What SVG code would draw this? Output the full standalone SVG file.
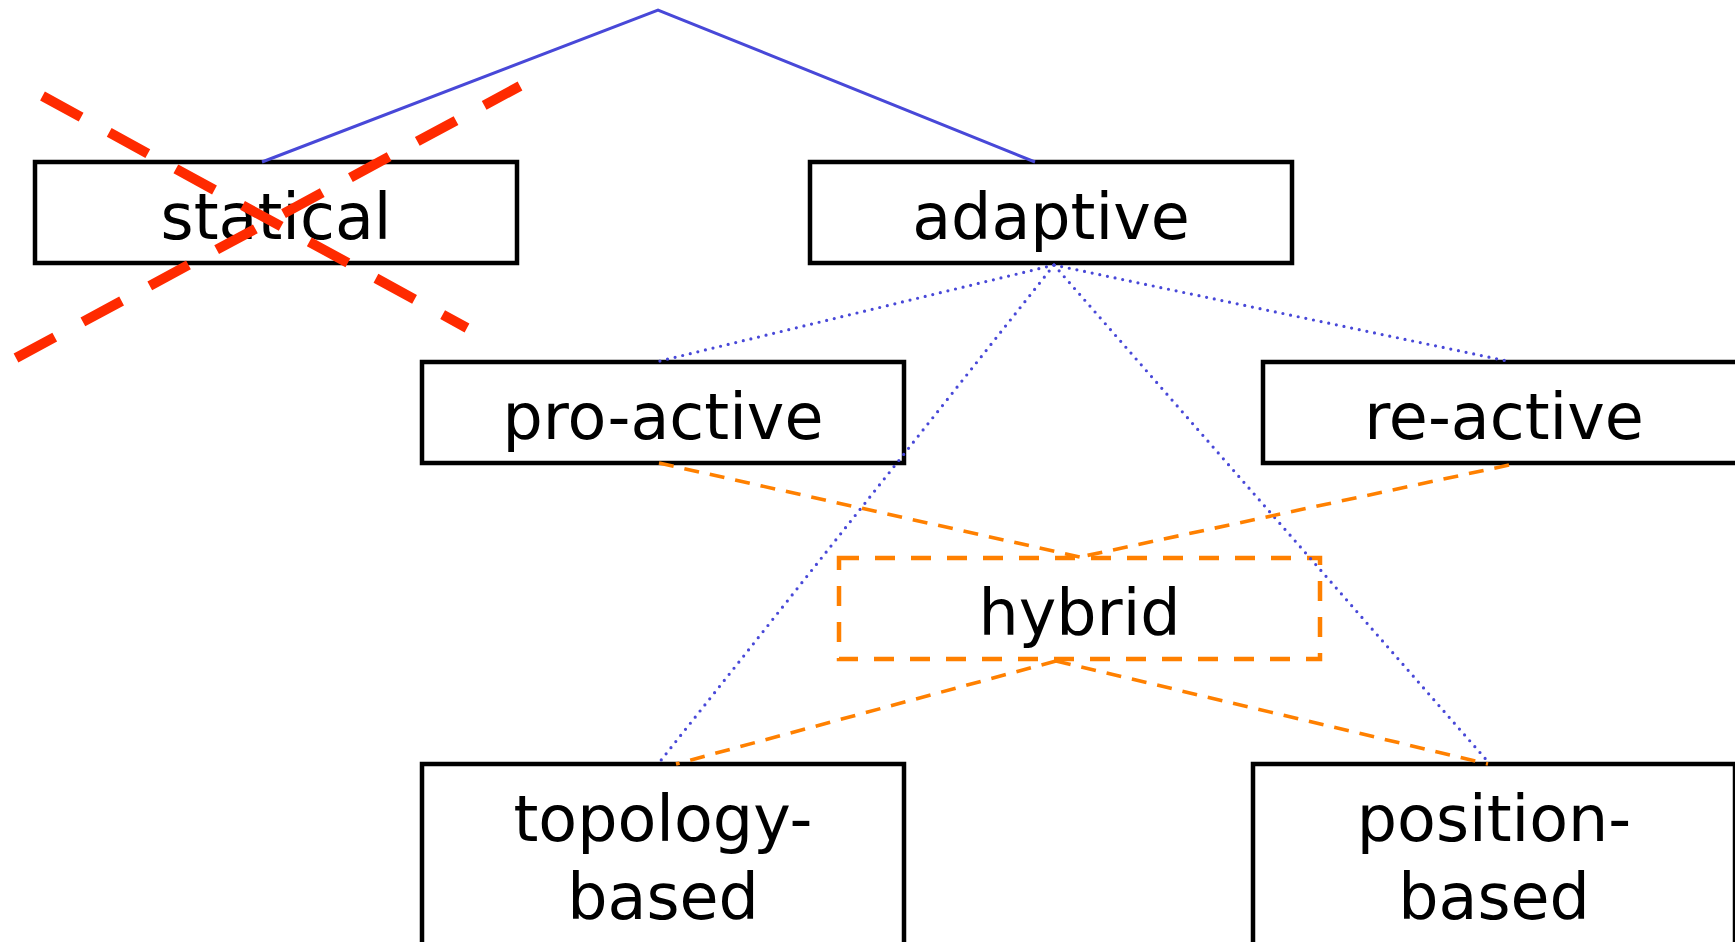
<svg xmlns="http://www.w3.org/2000/svg" width="1735" height="942" viewBox="0 0 1735 942">
  <style>
    .box { fill: #ffffff; stroke: #000000; stroke-width: 4.5; }
    .hyb { fill: #ffffff; stroke: #ff8000; stroke-width: 4.5; stroke-dasharray: 20 16; }
    .lbl { font-family: "DejaVu Sans", Verdana, sans-serif; font-size: 63.5px; fill: #000000; text-anchor: middle; }
    .solid { fill: none; stroke: #4848d8; stroke-width: 3; }
    .dot { fill: none; stroke: #4848d8; stroke-width: 3.2; stroke-linecap: round; stroke-dasharray: 0 7.8; }
    .odash { fill: none; stroke: #ff8000; stroke-width: 3.6; stroke-dasharray: 15 11; }
    .cross { fill: none; stroke: #ff2a00; stroke-width: 10; stroke-dasharray: 44 32; }
  </style>
  <rect width="1735" height="942" fill="#ffffff"/>

  <g id="node-statical">
    <rect class="box" x="35" y="162" width="482" height="101"/>
    <text class="lbl" x="276" y="238.5">statical</text>
  </g>
  <g id="node-adaptive">
    <rect class="box" x="810" y="162" width="482" height="101"/>
    <text class="lbl" x="1051" y="238.5">adaptive</text>
  </g>
  <g id="node-pro-active">
    <rect class="box" x="422" y="362" width="482" height="101"/>
    <text class="lbl" x="663" y="438.5">pro-active</text>
  </g>
  <g id="node-re-active">
    <rect class="box" x="1263" y="362" width="482" height="101"/>
    <text class="lbl" x="1504" y="438.5">re-active</text>
  </g>
  <g id="node-hybrid">
    <rect class="hyb" x="839" y="558" width="481" height="101"/>
    <text class="lbl" x="1079.5" y="634.5">hybrid</text>
  </g>
  <g id="node-topology-based">
    <rect class="box" x="422" y="764" width="482" height="220"/>
    <text class="lbl" x="663" y="841">topology-</text>
    <text class="lbl" x="663" y="919">based</text>
  </g>
  <g id="node-position-based">
    <rect class="box" x="1253" y="764" width="482" height="220"/>
    <text class="lbl" x="1494" y="841">position-</text>
    <text class="lbl" x="1494" y="919">based</text>
  </g>

  <g id="connectors">
    <polyline class="solid" points="262,162 658,10 1035,162"/>
    <line class="dot" x1="1054" y1="265" x2="656" y2="362"/>
    <line class="dot" x1="1054" y1="265" x2="1507" y2="361"/>
    <line class="dot" x1="1054" y1="265" x2="658" y2="764"/>
    <line class="dot" x1="1054" y1="265" x2="1490" y2="764"/>
    <line class="odash" x1="659" y1="463" x2="1080" y2="557"/>
    <line class="odash" x1="1509" y1="465" x2="1080" y2="557"/>
    <line class="odash" x1="1056" y1="661" x2="676" y2="764"/>
    <line class="odash" x1="1056" y1="661" x2="1488" y2="764"/>
  </g>

  <g id="cross-out">
    <line class="cross" x1="42.5" y1="96" x2="467" y2="328"/>
    <line class="cross" x1="16" y1="358" x2="520" y2="86"/>
  </g>
</svg>
